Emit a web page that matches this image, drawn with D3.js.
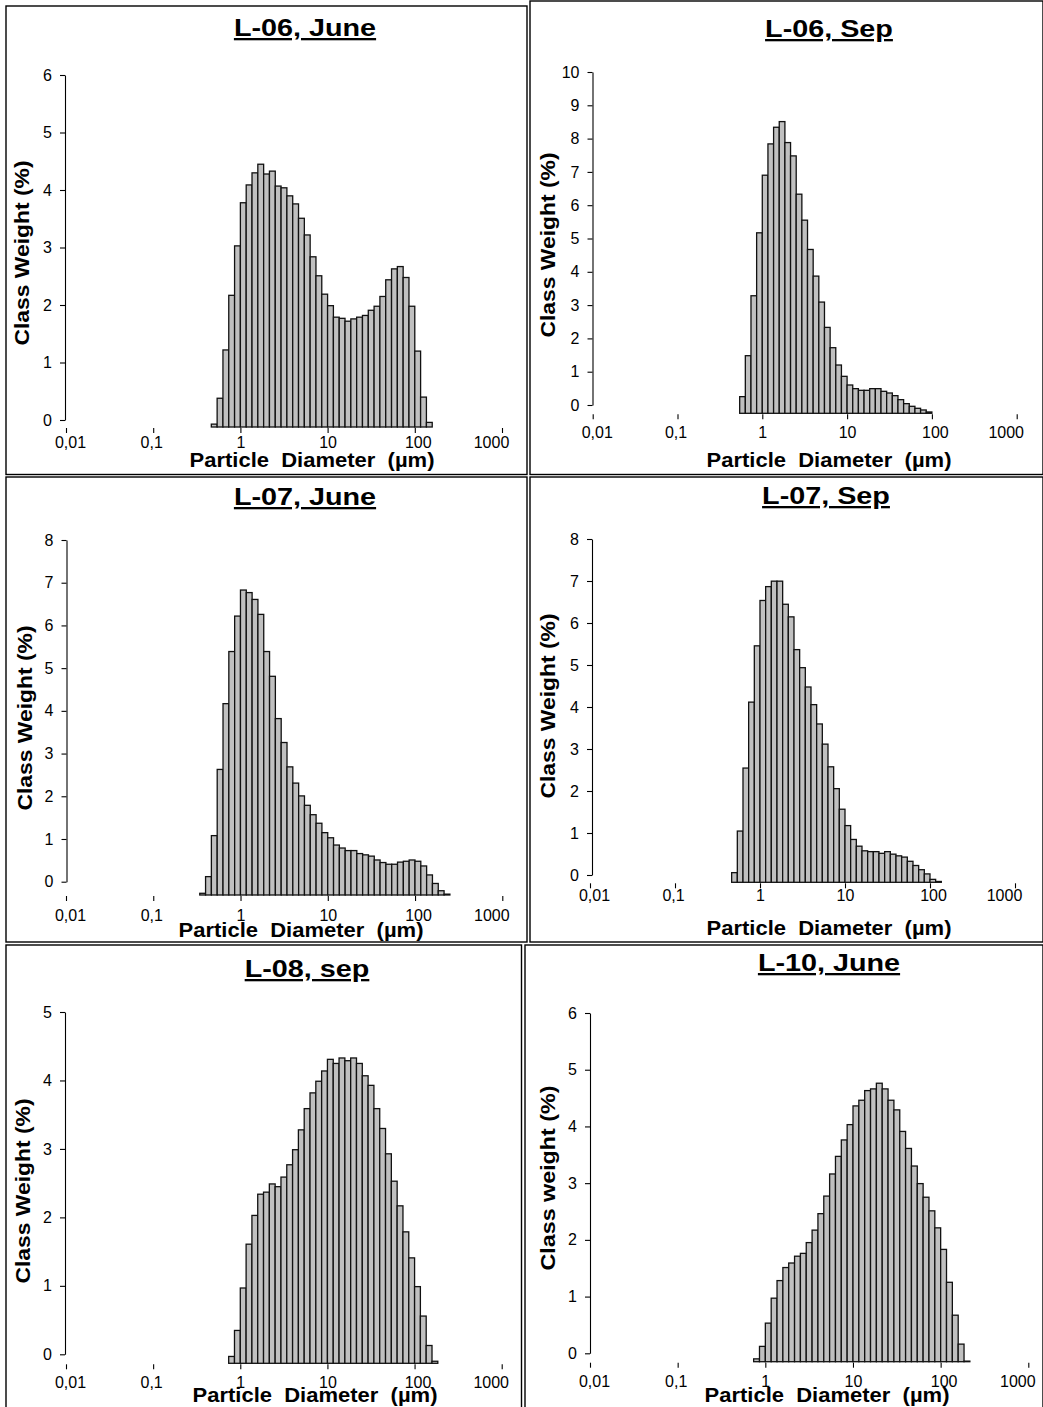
<!DOCTYPE html>
<html>
<head>
<meta charset="utf-8">
<script src="https://cdn.jsdelivr.net/npm/d3@7"></script>
<style>
  body { margin: 0; background: #fff; }
  svg { display: block; }
  text { font-family: "Liberation Sans", Arial, Helvetica, sans-serif; fill: #000; }
</style>
</head>
<body>
<svg id="chart" width="1043" height="1407"></svg>
<script>
// ---- Data -------------------------------------------------------------
// Diameter axis ticks (µm) and their labels (decimal comma)
const diameterTicks = [0.01, 0.1, 1, 10, 100, 1000];
const diameterTickLabels = ["0,01", "0,1", "1", "10", "100", "1000"];

// Size classes: 15 logarithmic classes per decade
const classesPerDecade = 15;

// Sample names (panel titles) and y-axis titles
const samples = ["L-06, June", "L-06, Sep", "L-07, June", "L-07, Sep", "L-08, sep", "L-10, June"];
const weightTitles = ["Class Weight (%)", "Class Weight (%)", "Class Weight (%)",
                      "Class Weight (%)", "Class Weight (%)", "Class weight (%)"];
const weightMax = [6, 10, 8, 8, 5, 6];

// Lower edge (µm) of the first populated size class of each sample
const firstClassLower = [0.464, 0.541, 0.341, 0.464, 0.736, 0.736];

// Class weights (%) per size class
const weightL06June = [0.05, 0.50, 1.34, 2.29, 3.15, 3.90, 4.21, 4.42, 4.57, 4.40,
                       4.45, 4.19, 4.16, 4.02, 3.88, 3.63, 3.34, 2.96, 2.63, 2.31,
                       2.11, 1.91, 1.89, 1.84, 1.88, 1.91, 1.94, 2.03, 2.10, 2.27,
                       2.56, 2.75, 2.79, 2.60, 2.10, 1.32, 0.52, 0.08];
const weightL06Sep = [0.50, 1.73, 3.53, 5.42, 7.15, 8.09, 8.59, 8.76, 8.13, 7.73,
                      6.58, 5.80, 4.92, 4.12, 3.34, 2.58, 1.97, 1.45, 1.11, 0.85,
                      0.74, 0.69, 0.69, 0.74, 0.74, 0.66, 0.61, 0.53, 0.41, 0.29,
                      0.21, 0.15, 0.10, 0.04];
const weightL07June = [0.04, 0.43, 1.39, 2.94, 4.48, 5.70, 6.53, 7.14, 7.08, 6.92,
                       6.57, 5.70, 5.12, 4.13, 3.57, 3.00, 2.62, 2.32, 2.10, 1.88,
                       1.68, 1.46, 1.34, 1.17, 1.10, 1.04, 1.04, 0.97, 0.94, 0.91,
                       0.82, 0.76, 0.72, 0.72, 0.77, 0.79, 0.82, 0.79, 0.68, 0.47,
                       0.27, 0.10, 0.02];
const weightL07Sep = [0.23, 1.22, 2.72, 4.29, 5.63, 6.71, 7.04, 7.17, 7.17, 6.62,
                      6.32, 5.54, 5.11, 4.65, 4.23, 3.77, 3.29, 2.75, 2.23, 1.74,
                      1.35, 1.02, 0.86, 0.75, 0.73, 0.73, 0.69, 0.73, 0.67, 0.63,
                      0.60, 0.50, 0.40, 0.30, 0.20, 0.07, 0.02];
const weightL08Sep = [0.10, 0.48, 1.10, 1.74, 2.16, 2.47, 2.50, 2.62, 2.58, 2.72,
                      2.90, 3.12, 3.41, 3.72, 3.95, 4.12, 4.27, 4.44, 4.38, 4.46,
                      4.42, 4.46, 4.38, 4.20, 4.06, 3.72, 3.43, 3.06, 2.66, 2.30,
                      1.92, 1.54, 1.12, 0.69, 0.26, 0.03];
const weightL10June = [0.05, 0.27, 0.68, 1.12, 1.43, 1.66, 1.74, 1.86, 1.91, 2.10,
                       2.32, 2.61, 2.92, 3.31, 3.62, 3.91, 4.18, 4.51, 4.61, 4.78,
                       4.81, 4.91, 4.81, 4.61, 4.44, 4.06, 3.76, 3.45, 3.14, 2.90,
                       2.66, 2.36, 1.98, 1.40, 0.82, 0.31, 0.01];
const weights = [weightL06June, weightL06Sep, weightL07June, weightL07Sep, weightL08Sep, weightL10June];

// ---- Layout -----------------------------------------------------------
// frame: panel border; x0/x1: pixel span 0.01..1000 µm; axisX: y-axis line;
// zero/top: y-axis 0 and max ticks; base: bar baseline; tickBase: x label baseline
const layout = [
  { frame: [6, 6, 527, 474.5],     x0: 66,    x1: 502,    axisX: 65,    zero: 420,    top: 75,   base: 427,    tickBase: 448,
    title: [305, 36],  yTitle: [22, 253],   xTitle: [312, 467] },
  { frame: [530, 1, 1043, 474.5],  x0: 592.7, x1: 1016.7, axisX: 592.5, zero: 405,    top: 72,   base: 413.3,  tickBase: 438,
    title: [829, 37],  yTitle: [548, 245],  xTitle: [829, 467] },
  { frame: [6, 477, 527, 942],     x0: 66,    x1: 502.3,  axisX: 66.5,  zero: 881.7,  top: 540,  base: 895,    tickBase: 921,
    title: [305, 505], yTitle: [25, 718],   xTitle: [301, 937] },
  { frame: [530, 477, 1043, 942],  x0: 590,   x1: 1015,   axisX: 592,   zero: 875,    top: 539,  base: 882.3,  tickBase: 901,
    title: [826, 504], yTitle: [548, 706],  xTitle: [829, 935] },
  { frame: [6, 945, 521.5, 1410],  x0: 66,    x1: 501.7,  axisX: 65,    zero: 1354.3, top: 1012, base: 1363.3, tickBase: 1388,
    title: [307, 977], yTitle: [23, 1191],  xTitle: [315, 1402] },
  { frame: [525, 945, 1043, 1410], x0: 590,   x1: 1028.3, axisX: 590,   zero: 1353.3, top: 1013, base: 1361.7, tickBase: 1387,
    title: [829, 971], yTitle: [548, 1178], xTitle: [827, 1402] }
];

// small horizontal nudges of the diameter labels relative to their ticks
const tickLabelShift = [4, -2, 0, 0, 3, -11];
const tickFont = 16;
const svg = d3.select("#chart");

samples.forEach((name, p) => {
  const L = layout[p];
  const g = svg.append("g");

  // panel frame
  const [fx0, fy0, fx1, fy1] = L.frame;
  g.append("rect")
    .attr("x", fx0).attr("y", fy0)
    .attr("width", fx1 - fx0).attr("height", fy1 - fy0)
    .attr("fill", "none").attr("stroke", "#000").attr("stroke-width", 1.4);

  // scales
  const x = d3.scaleLog().domain([0.01, 1000]).range([L.x0, L.x1]);
  const axisY = d3.scaleLinear().domain([0, weightMax[p]]).range([L.zero, L.top]);
  const y = d3.scaleLinear().domain([0, weightMax[p]]).range([L.base, L.base - (L.zero - L.top)]);

  // size-class bars
  const step = Math.pow(10, 1 / classesPerDecade);
  const classes = weights[p].map((v, i) => {
    const lo = firstClassLower[p] * Math.pow(step, i);
    return { lo, hi: lo * step, v };
  });
  g.append("g").selectAll("rect")
    .data(classes)
    .join("rect")
    .attr("x", d => x(d.lo))
    .attr("width", d => x(d.hi) - x(d.lo))
    .attr("y", d => y(d.v))
    .attr("height", d => y(0) - y(d.v))
    .attr("fill", "#c0c0c0")
    .attr("stroke", "#111")
    .attr("stroke-width", 1.3);

  // y axis
  const yAxis = g.append("g")
    .attr("transform", `translate(${L.axisX},0)`)
    .call(d3.axisLeft(axisY).ticks(weightMax[p]).tickFormat(d3.format("d"))
      .tickSize(5).tickSizeOuter(0).tickPadding(8));
  yAxis.selectAll("text").attr("font-size", tickFont).attr("font-family", null);
  yAxis.selectAll("line, path").attr("stroke", "#000").attr("stroke-width", 1.1);

  // x axis: tick marks and labels only
  const pad = L.tickBase - (L.base + 1) - 5 - 0.71 * tickFont;
  const xAxis = g.append("g")
    .attr("transform", `translate(0,${L.base + 1})`)
    .call(d3.axisBottom(x).tickValues(diameterTicks)
      .tickFormat((d, i) => diameterTickLabels[i])
      .tickSize(5).tickPadding(pad));
  xAxis.select(".domain").remove();
  xAxis.selectAll("text").attr("font-size", tickFont).attr("font-family", null)
    .attr("dx", (d, i) => tickLabelShift[i]);
  xAxis.selectAll("line").attr("stroke", "#000").attr("stroke-width", 1.1);

  // panel title (bold, underlined, slightly widened)
  const t = g.append("text")
    .attr("x", L.title[0]).attr("y", L.title[1])
    .attr("text-anchor", "middle")
    .attr("font-size", 23).attr("font-weight", "bold")
    .attr("text-decoration", "underline")
    .text(name);
  const tw = t.node().getComputedTextLength();
  t.attr("textLength", tw * 1.25).attr("lengthAdjust", "spacingAndGlyphs");

  // y-axis title
  g.append("text")
    .attr("transform", `translate(${L.yTitle[0]},${L.yTitle[1]}) rotate(-90)`)
    .attr("text-anchor", "middle").attr("dy", "0.35em")
    .attr("font-size", 20).attr("font-weight", "bold")
    .attr("textLength", 185).attr("lengthAdjust", "spacingAndGlyphs")
    .text(weightTitles[p]);

  // x-axis title
  g.append("text")
    .attr("x", L.xTitle[0]).attr("y", L.xTitle[1])
    .attr("text-anchor", "middle")
    .attr("font-size", 20).attr("font-weight", "bold")
    .attr("textLength", 245).attr("lengthAdjust", "spacingAndGlyphs")
    .style("white-space", "pre")
    .text("Particle  Diameter  (\u00b5m)");
});
</script>
</body>
</html>
